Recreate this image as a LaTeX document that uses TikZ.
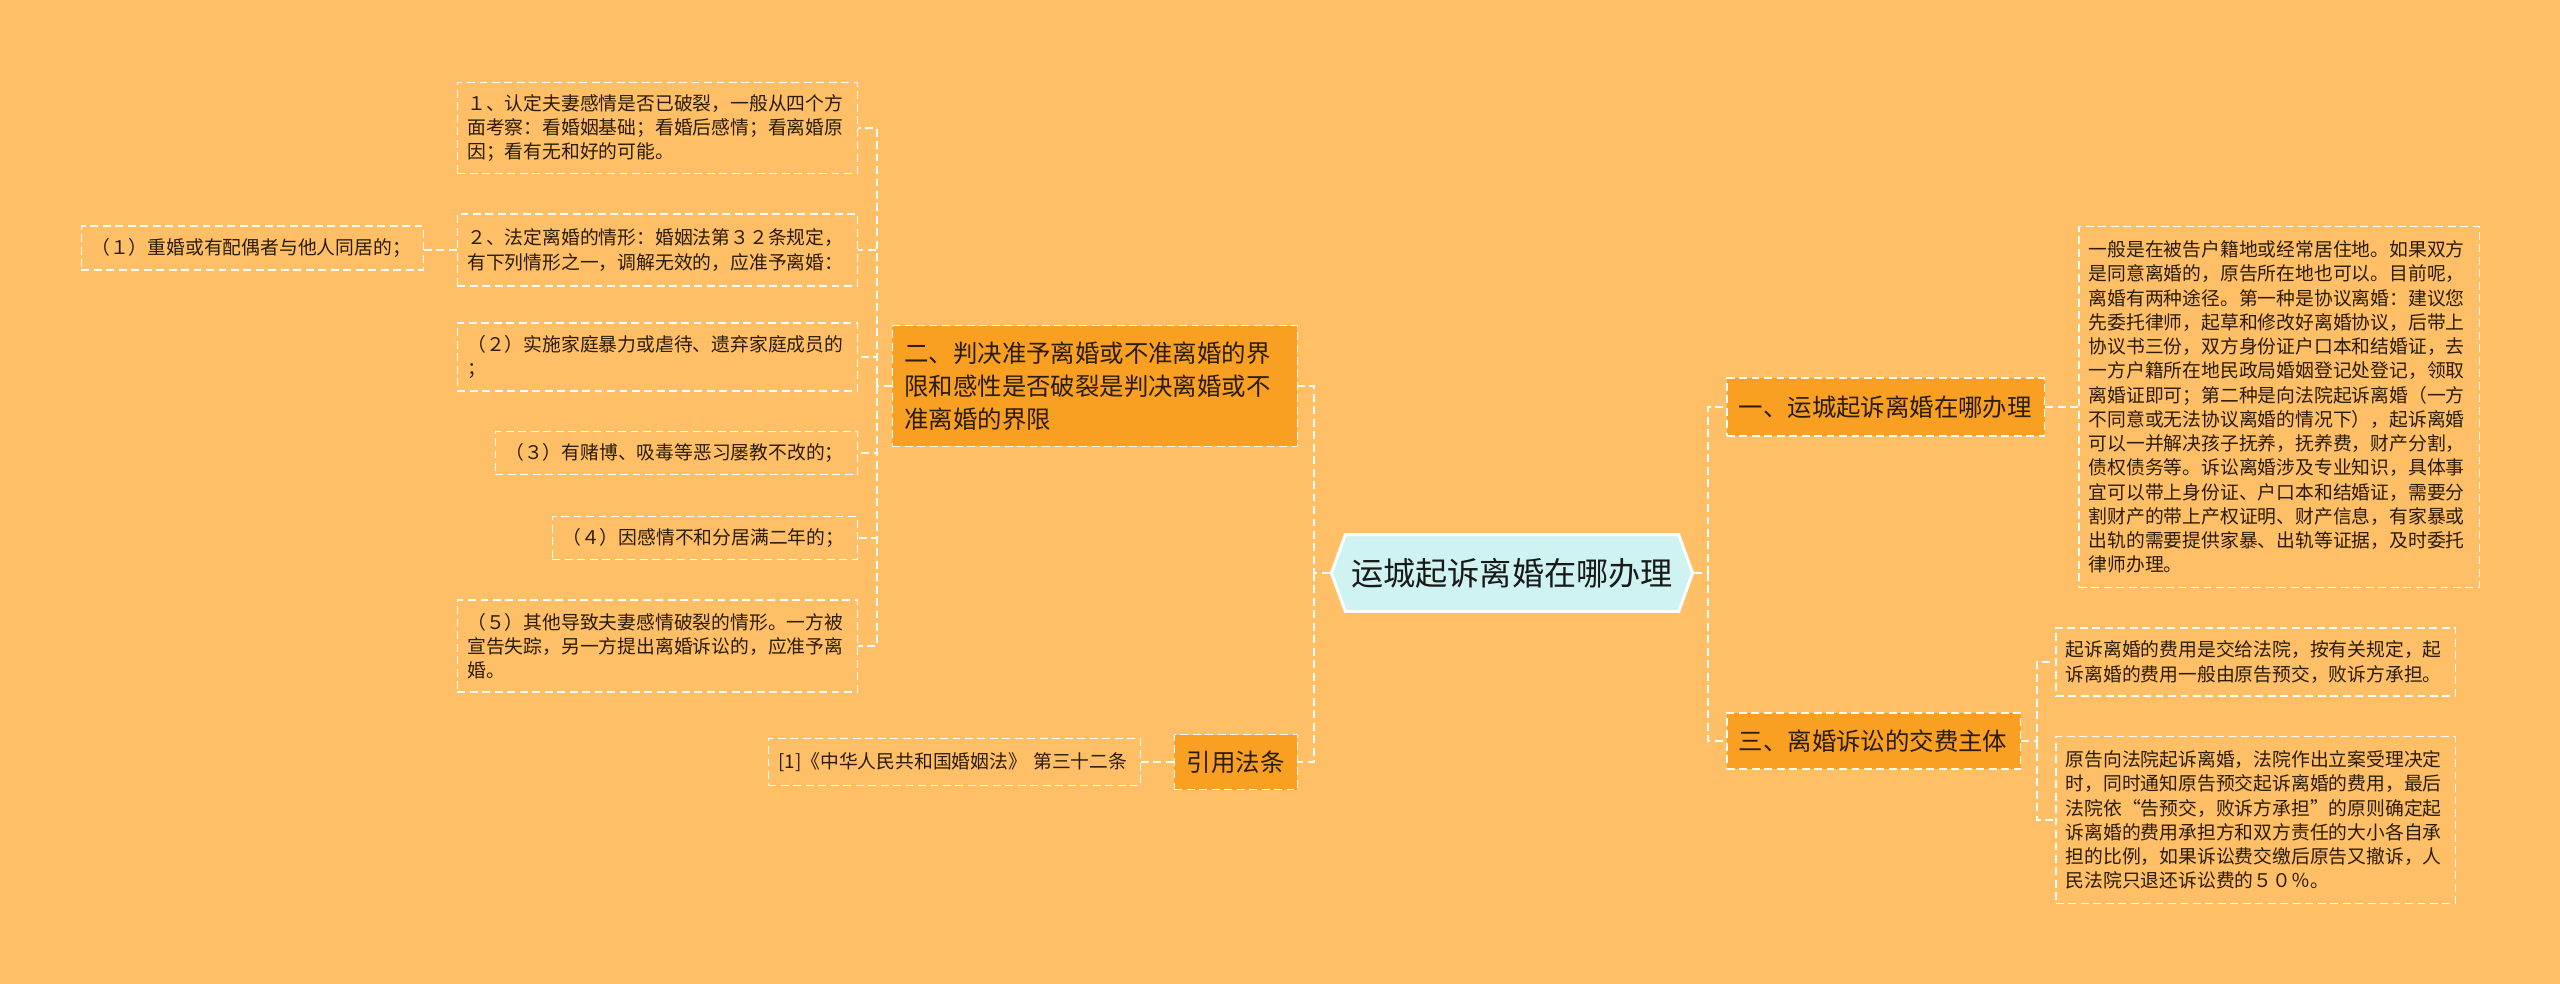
\documentclass[tikz,border=0pt]{standalone}
\usepackage{fontspec}
\setmainfont{Noto Sans CJK SC}
\usetikzlibrary{shapes.symbols}

\definecolor{bgorange}{HTML}{FFBF66}
\definecolor{boxorange}{HTML}{F9A023}
\definecolor{rootcyan}{HTML}{CFF3F1}
\definecolor{inkbrown}{HTML}{2A1C08}

\tikzset{
  link/.style={draw=white, line width=1.1pt, dash pattern=on 4.5pt off 2.6pt},
  leaf/.style={draw=white, line width=0.85pt, dash pattern=on 4.5pt off 2.6pt,
    align=left, inner xsep=0.2cm, inner ysep=0pt, text=inkbrown,
    font=\fontsize{10.7}{13.8}\selectfont},
  branch/.style={leaf, fill=boxorange, inner xsep=0.24cm,
    font=\fontsize{13.9}{18.7}\selectfont},
  hub/.style={shape=signal, signal to=east and west, signal pointer angle=140,
    draw=white, line width=1.7pt, fill=rootcyan, text=black!90,
    font=\fontsize{18.3}{22}\selectfont, minimum width=7.2cm, minimum height=1.54cm}
}

\begin{document}
\begin{tikzpicture}[x=0.02cm, y=-0.02cm]
    \fill[bgorange] (0,0) rectangle (2560,984);
    \useasboundingbox (0,0) rectangle (2560,984);

    % centre
    \node[hub] (root) at (1512,573) {运城起诉离婚在哪办理};

    % right side
    \node[branch, anchor=west, text width=5.88cm, minimum height=1.16cm] (where) at (1726,407)
        {一、运城起诉离婚在哪办理};
    \node[branch, anchor=west, text width=5.4cm, minimum height=1.12cm] (fees) at (1726,741)
        {三、离婚诉讼的交费主体};

    \node[leaf, anchor=west, text width=7.62cm, minimum height=7.22cm] (whereText) at (2078,407)
        {一般是在被告户籍地或经常居住地。如果双方\\
         是同意离婚的，原告所在地也可以。目前呢，\\
         离婚有两种途径。第一种是协议离婚：建议您\\
         先委托律师，起草和修改好离婚协议，后带上\\
         协议书三份，双方身份证户口本和结婚证，去\\
         一方户籍所在地民政局婚姻登记处登记，领取\\
         离婚证即可；第二种是向法院起诉离婚（一方\\
         不同意或无法协议离婚的情况下），起诉离婚\\
         可以一并解决孩子抚养，抚养费，财产分割，\\
         债权债务等。诉讼离婚涉及专业知识，具体事\\
         宜可以带上身份证、户口本和结婚证，需要分\\
         割财产的带上产权证明、财产信息，有家暴或\\
         出轨的需要提供家暴、出轨等证据，及时委托\\
         律师办理。};
    \node[leaf, anchor=west, text width=7.6cm, minimum height=1.36cm] (feeA) at (2055,662)
        {起诉离婚的费用是交给法院，按有关规定，起\\
         诉离婚的费用一般由原告预交，败诉方承担。};
    \node[leaf, anchor=west, text width=7.6cm, minimum height=3.34cm] (feeB) at (2055,820)
        {原告向法院起诉离婚，法院作出立案受理决定\\
         时，同时通知原告预交起诉离婚的费用，最后\\
         法院依“告预交，败诉方承担”的原则确定起\\
         诉离婚的费用承担方和双方责任的大小各自承\\
         担的比例，如果诉讼费交缴后原告又撤诉，人\\
         民法院只退还诉讼费的５０％。};

    % left side
    \node[branch, anchor=east, text width=7.62cm, minimum height=2.42cm] (limits) at (1298,386)
        {二、判决准予离婚或不准离婚的界\\
         限和感性是否破裂是判决离婚或不\\
         准离婚的界限};
    \node[branch, anchor=east, align=center, minimum width=2.46cm, minimum height=1.1cm] (law) at (1298,762)
        {引用法条};
    \node[leaf, anchor=east, text width=7.04cm, minimum height=0.94cm] (lawRef) at (1141,762)
        {[1]《中华人民共和国婚姻法》 第三十二条};

    \node[leaf, anchor=east, text width=7.6cm, minimum height=1.82cm] (sense) at (858,128)
        {１、认定夫妻感情是否已破裂，一般从四个方\\
         面考察：看婚姻基础；看婚后感情；看离婚原\\
         因；看有无和好的可能。};
    \node[leaf, anchor=east, text width=7.6cm, minimum height=1.44cm] (legal) at (858,250)
        {２、法定离婚的情形：婚姻法第３２条规定，\\
         有下列情形之一，调解无效的，应准予离婚：};
    \node[leaf, anchor=east, text width=7.6cm, minimum height=1.36cm] (abuse) at (858,357)
        {（２）实施家庭暴力或虐待、遗弃家庭成员的\\
         ；};
    \node[leaf, anchor=east, text width=6.84cm, minimum height=0.86cm] (gamble) at (858,453)
        {（３）有赌博、吸毒等恶习屡教不改的；};
    \node[leaf, anchor=east, text width=5.7cm, minimum height=0.86cm] (apart) at (858,538)
        {（４）因感情不和分居满二年的；};
    \node[leaf, anchor=east, text width=7.6cm, minimum height=1.84cm] (missing) at (858,646)
        {（５）其他导致夫妻感情破裂的情形。一方被\\
         宣告失踪，另一方提出离婚诉讼的，应准予离\\
         婚。};
    \node[leaf, anchor=east, text width=6.44cm, minimum height=0.88cm] (bigamy) at (424,248)
        {（１）重婚或有配偶者与他人同居的；};

    % connectors
    \coordinate (rtrunk) at (1708,573);
    \coordinate (ftrunk) at (2037,741);
    \coordinate (ltrunk) at (1314,573);
    \coordinate (btrunk) at (877,386);

    \draw[link] (root.east) -- (rtrunk) |- (where.west);
    \draw[link] (rtrunk) |- (fees.west);
    \draw[link] (where.east) -- (where.east -| whereText.west);
    \draw[link] (fees.east) -- (ftrunk) |- (feeA.west);
    \draw[link] (ftrunk) |- (feeB.west);

    \draw[link] (root.west) -- (ltrunk) |- (limits.east);
    \draw[link] (ltrunk) |- (law.east);
    \draw[link] (law.west) -- (law.west -| lawRef.east);
    \draw[link] (limits.west) -- (btrunk);
    \foreach \leafname in {sense,legal,abuse,gamble,apart,missing}
        \draw[link] (btrunk) |- (\leafname.east);
    \draw[link] (legal.west) -- (legal.west -| bigamy.east);
\end{tikzpicture}
\end{document}
